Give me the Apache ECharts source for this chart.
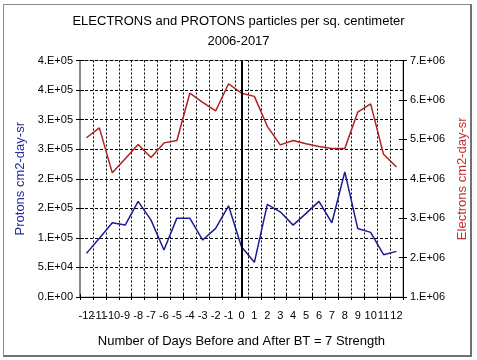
<!DOCTYPE html>
<html>
<head>
<meta charset="utf-8">
<script src="https://cdn.jsdelivr.net/npm/echarts@6/dist/echarts.min.js"></script>
<style>
html,body{margin:0;padding:0;background:#fff;}
#frame{position:absolute;left:3px;top:4px;width:466px;height:350px;border:1px solid #8a8a8a;border-right:2px solid #707070;border-bottom:2px solid #707070;}
#c{position:absolute;left:0;top:0;width:477px;height:360px;}
</style>
</head>
<body>
<div id="frame"></div>
<div id="c"></div>
<script>
var days = ['-12','-11','-10','-9','-8','-7','-6','-5','-4','-3','-2','-1','0','1','2','3','4','5','6','7','8','9','10','11','12'];
var protons = [73800,99200,125500,121600,161700,130100,79400,133400,133400,96300,116000,154200,85000,58600,156600,144100,121600,141400,161700,125500,211700,116000,109300,71500,77200];
var electrons = [5040000,5290000,4150000,4510000,4870000,4540000,4910000,4970000,6170000,5940000,5720000,6410000,6170000,6090000,5330000,4860000,4970000,4890000,4820000,4770000,4770000,5690000,5900000,4620000,4300000];
var leftTickLabels = ['0.E+00','5.E+04','1.E+05','2.E+05','2.E+05','3.E+05','3.E+05','4.E+05','4.E+05'];
var rightTickLabels = ['1.E+06','2.E+06','3.E+06','4.E+06','5.E+06','6.E+06','7.E+06'];

var font = 'Liberation Sans, Arial, sans-serif';
var chart = echarts.init(document.getElementById('c'));
var leftAx = {min:0,max:400000,interval:50000};
var rightAx = {min:1000000,max:7000000,interval:1000000};
chart.setOption({
  animation:false,
  title:{text:'ELECTRONS and PROTONS particles per sq. centimeter\n2006-2017',left:'center',top:6,
    textStyle:{fontFamily:font,fontSize:13,fontWeight:'normal',color:'#000',lineHeight:20}},
  grid:{left:80,right:72,top:60.5,bottom:63,show:true,borderColor:'#999',borderWidth:1},
  xAxis:[{type:'category',data:days,boundaryGap:true,
    name:'Number of Days Before and After BT = 7 Strength',nameLocation:'middle',nameGap:38,
    nameTextStyle:{fontFamily:font,fontSize:13,color:'#000'},
    axisLine:{lineStyle:{color:'#000',width:1}},
    axisTick:{show:true,length:3,lineStyle:{color:'#000'}},
    axisLabel:{interval:0,fontFamily:font,fontSize:11,color:'#000',margin:13},
    splitLine:{show:true,lineStyle:{color:'#000',type:[2,2],width:1}}},
   {type:'category',data:days,boundaryGap:true,position:'bottom',
    axisLine:{show:false},axisTick:{show:true,inside:true,length:3,lineStyle:{color:'#000'}},
    axisLabel:{show:false},splitLine:{show:false}}],
  yAxis:[{type:'value',min:leftAx.min,max:leftAx.max,interval:leftAx.interval,position:'left',
    name:'Protons cm2-day-sr',nameLocation:'middle',nameGap:52,
    nameTextStyle:{fontFamily:font,fontSize:13,color:'#2a2aa0'},
    axisLine:{show:true,lineStyle:{color:'#888',width:2}},
    axisTick:{show:true,length:4,lineStyle:{color:'#000'}},
    axisLabel:{fontFamily:font,fontSize:11,color:'#000',margin:7,formatter:function(v){return leftTickLabels[Math.round(v/50000)];}},
    splitLine:{show:true,lineStyle:{color:'#000',type:[3,2],width:1}}},
   {type:'value',min:rightAx.min,max:rightAx.max,interval:rightAx.interval,position:'right',
    name:'Electrons cm2-day-sr',nameLocation:'middle',nameGap:48,nameRotate:90,
    nameTextStyle:{fontFamily:font,fontSize:13,color:'#c03030'},
    axisLine:{show:true,lineStyle:{color:'#000',width:1}},
    axisTick:{show:true,length:4,lineStyle:{color:'#000'}},
    axisLabel:{fontFamily:font,fontSize:11,color:'#000',margin:7,formatter:function(v){return rightTickLabels[Math.round((v-1000000)/1000000)];}},
    splitLine:{show:false}},
   {type:'value',min:leftAx.min,max:leftAx.max,interval:leftAx.interval,position:'left',
    axisLine:{show:false},axisTick:{show:true,inside:true,length:4,lineStyle:{color:'#000'}},
    axisLabel:{show:false},splitLine:{show:false}},
   {type:'value',min:rightAx.min,max:rightAx.max,interval:rightAx.interval,position:'right',
    axisLine:{show:false},axisTick:{show:true,inside:true,length:4,lineStyle:{color:'#000'}},
    axisLabel:{show:false},splitLine:{show:false}}],
  series:[
    {type:'line',name:'Electrons',data:electrons,yAxisIndex:1,showSymbol:false,symbol:'none',
     lineStyle:{color:'#b02020',width:1.5},z:3},
    {type:'line',name:'Protons',data:protons,yAxisIndex:0,showSymbol:false,symbol:'none',
     lineStyle:{color:'#1c1c96',width:1.5},z:3,
     markLine:{silent:true,symbol:'none',label:{show:false},animation:false,
       lineStyle:{color:'#000',type:'solid',width:2},data:[{xAxis:'0'}]}}
  ]
});
</script>
</body>
</html>
